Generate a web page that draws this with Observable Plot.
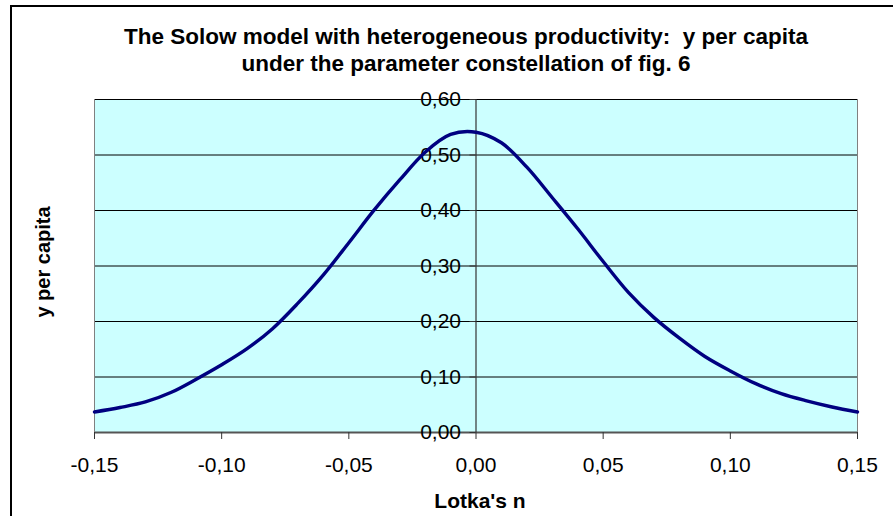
<!DOCTYPE html>
<html>
<head>
<meta charset="utf-8">
<script src="https://cdn.jsdelivr.net/npm/d3@7"></script>
<script src="https://cdn.jsdelivr.net/npm/@observablehq/plot@0.6"></script>
<style>
  html, body { margin: 0; padding: 0; background: #fff; overflow: hidden; width: 893px; height: 516px; }
  #border { position: absolute; left: 10px; top: 5px; width: 1000px; height: 1000px; border-left: 2px solid #000; border-top: 2px solid #000; }
  #title { position: absolute; left: 0; top: 23px; width: 932px; text-align: center; font-family: "Liberation Sans", Arial, sans-serif; font-weight: bold; font-size: 22.5px; line-height: 27px; color: #000; }
  #chart { position: absolute; left: 0; top: 0; }
</style>
</head>
<body>
<div id="border"></div>
<div id="title">The Solow model with heterogeneous productivity:&nbsp; y per capita<br>under the parameter constellation of fig. 6</div>
<div id="chart"></div>
<script>
// Lotka's n (x) and y per capita (y)
const lotkaN = [-0.15, -0.14, -0.13, -0.12, -0.11, -0.10, -0.09, -0.08, -0.07, -0.06,
                -0.05, -0.04, -0.03, -0.02, -0.01, 0.00, 0.01, 0.02, 0.03, 0.04,
                0.05, 0.06, 0.07, 0.08, 0.09, 0.10, 0.11, 0.12, 0.13, 0.14, 0.15];
const yPerCapita = [0.037, 0.045, 0.055, 0.072, 0.096, 0.122, 0.151, 0.187, 0.233, 0.284,
                    0.342, 0.401, 0.455, 0.505, 0.537, 0.541, 0.522, 0.478, 0.423, 0.367,
                    0.308, 0.252, 0.207, 0.170, 0.137, 0.111, 0.088, 0.070, 0.057, 0.046, 0.037];
const xTicks = [-0.15, -0.10, -0.05, 0.00, 0.05, 0.10, 0.15];
const yTicks = [0.00, 0.10, 0.20, 0.30, 0.40, 0.50, 0.60];

const data = lotkaN.map((x, i) => ({x, y: yPerCapita[i]}));
const fmt = d => d.toFixed(2).replace(".", ",");

const W = 893, H = 516;
const mL = 94, mR = 36, mT = 99, mB = 84;
const xDomain = [-0.15, 0.15];
const centerOffset = (0 - xDomain[0]) / (xDomain[1] - xDomain[0]) * (W - mL - mR);

const chart = Plot.plot({
  width: W,
  height: H,
  marginLeft: mL,
  marginRight: mR,
  marginTop: mT,
  marginBottom: mB,
  style: {fontFamily: "'Liberation Sans', Arial, sans-serif", background: "transparent", color: "#000"},
  x: {domain: xDomain},
  y: {domain: [0, 0.6]},
  marks: [
    Plot.frame({fill: "#ccffff", stroke: null}),
    Plot.gridY(yTicks, {stroke: "#000", strokeOpacity: 1, strokeWidth: 1}),
    Plot.ruleY([0], {stroke: "#555", strokeWidth: 2}),
    Plot.ruleX([xDomain[0], xDomain[1]], {stroke: "#808080", strokeWidth: 1}),
    Plot.ruleX([0], {stroke: "#333", strokeWidth: 1.2}),
    Plot.axisX(xTicks, {anchor: "bottom", tickFormat: fmt, tickSize: 7, tickPadding: 18, fontSize: 21, label: null, stroke: "#333"}),
    Plot.axisY(yTicks, {anchor: "left", dx: centerOffset, tickFormat: fmt, tickSize: 6, tickPadding: 9, fontSize: 21, label: null, stroke: "#333"}),
    Plot.line(data, {x: "x", y: "y", stroke: "#000080", strokeWidth: 3.4, curve: "catmull-rom"}),
    Plot.text(["y per capita"], {frameAnchor: "left", textAnchor: "middle", dx: -51, dy: -4, rotate: -90, fontWeight: "bold", fontSize: 20, fill: "#000"}),
    Plot.text(["Lotka's n"], {frameAnchor: "bottom", dx: 4, dy: 75, fontWeight: "bold", fontSize: 21, fill: "#000"})
  ]
});
document.getElementById("chart").appendChild(chart);
</script>
</body>
</html>
